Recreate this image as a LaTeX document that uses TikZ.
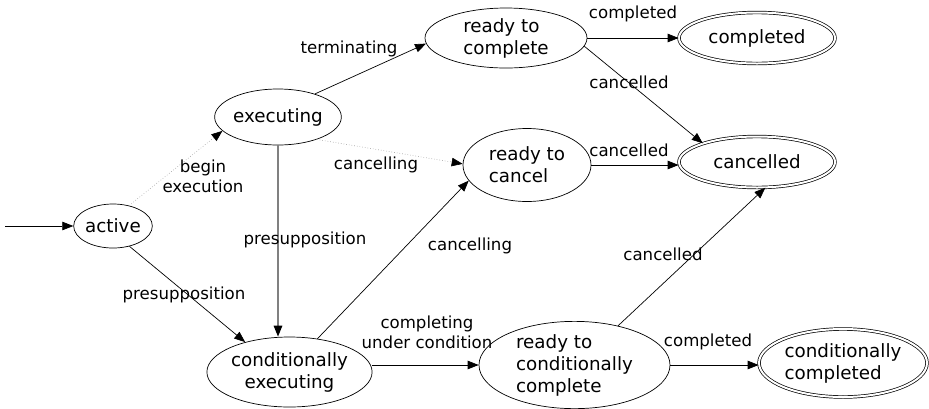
\documentclass[tikz,border=0pt]{standalone}
\usepackage{fontspec}
\setmainfont{DejaVu Sans}
\usetikzlibrary{arrows.meta,shapes.geometric}
\begin{document}
\begin{tikzpicture}[x=1pt,y=-1pt,
 st/.style={draw, ellipse, inner sep=0pt, font=\fontsize{18.3}{22}\selectfont, align=center, line width=0.7pt},
 fin/.style={st, double, double distance=2pt},
 tr/.style={-{Triangle[length=11pt,width=8.5pt,color=black,fill=black]}, line width=0.7pt},
 dotl/.style={tr, draw=gray!70, dotted, line width=0.6pt},
 grl/.style={tr, draw=gray, line width=1.4pt},
 lbl/.style={font=\fontsize{16.6}{20}\selectfont, align=center, inner sep=0pt}]
\useasboundingbox (0,0) rectangle (929,408);
% states
\node[st, minimum width=78, minimum height=44] (act) at (113,226) {active};
\node[st, minimum width=98, minimum height=56] (exe) at (278,117) {executing};
\node[st, minimum width=162, minimum height=60, align=left] (rtc) at (506,38) {ready to\\complete};
\node[fin, minimum width=156, minimum height=51] (cpl) at (757,38) {completed};
\node[st, minimum width=128, minimum height=73, align=left] (rtx) at (527,165) {ready to\\cancel};
\node[fin, minimum width=156, minimum height=51] (cnl) at (757,162) {cancelled};
\node[st, minimum width=147, minimum height=70] (cex) at (289.5,372) {conditionally\\executing};
\node[st, minimum width=191, minimum height=78, align=left] (rcc) at (574.5,365) {ready to\\conditionally\\complete};
\node[fin, minimum width=168, minimum height=68, align=left] (ccp) at (843,363) {conditionally\\completed};
% transitions
\coordinate (start) at (5,226);
\draw[tr] (start) -- (act.west);
\draw[dotl] (act.52) -- (exe.194);
\draw[tr] (act.309) -- (cex.146);
\draw[tr] (exe.32) -- (rtc.184);
\draw[dotl] (exe.330) -- (rtx.179);
\draw[grl] (exe.south) -- (exe.south |- cex.north);
\draw[tr] (rtc.east) -- (cpl.west);
\draw[tr] (rtc.354) -- (cnl.161);
\draw[tr] (rtx.east) -- (rtx.east -| cnl.west);
\draw[tr] (cex.50) -- (rtx.195);
\draw[tr] (rcc.west -| cex.east) -- (rcc.west);
\draw[tr] (rcc.42) -- (cnl.288);
\draw[tr] (rcc.east) -- (rcc.east -| ccp.west);
% labels
\node[lbl] (l1) at (203,176) {begin\\execution};
\node[lbl] (l2) at (184,295) {presupposition};
\node[lbl] (l3) at (349,49) {terminating};
\node[lbl] (l4) at (376,165) {cancelling};
\node[lbl] (l5) at (305,240) {presupposition};
\node[lbl] (l6) at (633,14) {completed};
\node[lbl] (l7) at (629,82) {cancelled};
\node[lbl] (l8) at (629,150) {cancelled};
\node[lbl] (l9) at (470,246) {cancelling};
\node[lbl] (l10) at (427,332) {completing\\under condition};
\node[lbl] (l11) at (663,254) {cancelled};
\node[lbl] (l12) at (708,342) {completed};
\end{tikzpicture}
\end{document}
